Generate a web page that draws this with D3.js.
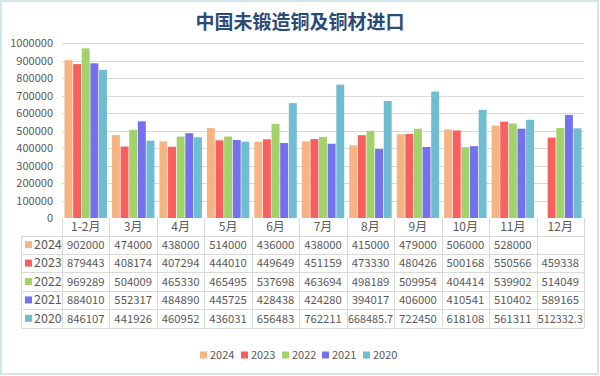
<!DOCTYPE html>
<html><head><meta charset="utf-8">
<script src="https://cdn.jsdelivr.net/npm/d3@7/dist/d3.min.js"></script>
<style>body{margin:0;background:#fff}svg{display:block}</style>
</head><body>
<svg id="c" width="600" height="376"></svg>
<script>
const title = "中国未锻造铜及铜材进口";
const categories = ["1-2月","3月","4月","5月","6月","7月","8月","9月","10月","11月","12月"];
const seriesNames = ["2024","2023","2022","2021","2020"];
const colors = ["#F7B483","#F7605F","#A2D26A","#7470EE","#6FBDD0"];
const s2024 = [902000,474000,438000,514000,436000,438000,415000,479000,506000,528000,null];
const s2023 = [879443,408174,407294,444010,449649,451159,473330,480426,500168,550566,459338];
const s2022 = [969289,504009,465330,465495,537698,463694,498189,509954,404414,539902,514049];
const s2021 = [884010,552317,484890,445725,428438,424280,394017,406000,410541,510402,589165];
const s2020 = [846107,441926,460952,436031,656483,762211,668485.7,722450,618108,561311,512332.3];
const seriesValues = [s2024,s2023,s2022,s2021,s2020];
const yTicks = [0,100000,200000,300000,400000,500000,600000,700000,800000,900000,1000000];

(function(){
const svg = d3.select("#c");
const font = "'Noto Sans CJK SC','Noto Sans',sans-serif";
const txt = "#595959";
const grid = "#D9D9D9";

svg.append("rect").attr("x",1).attr("y",1).attr("width",597).attr("height",373)
  .attr("fill","#fff").attr("stroke","#D3E6EA").attr("stroke-width",2);

svg.append("text").attr("x",300).attr("y",29).attr("text-anchor","middle")
  .attr("font-family",font).attr("font-weight","bold").attr("font-size",19)
  .attr("fill","#2B4A78").text(title);

const pLeft = 62, pRight = 584, pTop = 43, pBottom = 218;
const x0 = d3.scaleBand().domain(categories).range([pLeft,pRight]).padding(0);
const x1 = d3.scaleBand().domain(seriesNames).range([2.5, x0.bandwidth()-2.5]).paddingInner(0.08);
const y = d3.scaleLinear().domain([0,1000000]).range([pBottom,pTop]);

svg.append("g").selectAll("line").data(yTicks.slice(1)).join("line")
  .attr("x1",pLeft).attr("x2",pRight).attr("y1",d=>Math.round(y(d))+0.5).attr("y2",d=>Math.round(y(d))+0.5)
  .attr("stroke",grid).attr("stroke-width",1);

const yAxis = d3.axisLeft(y).tickValues(yTicks).tickSize(0).tickPadding(0).tickFormat(d3.format("d"));
const ga = svg.append("g").attr("transform",`translate(53,0)`).call(yAxis);
ga.select(".domain").remove();
ga.selectAll("text").attr("font-family",font).attr("font-size",11).attr("fill",txt);

const groups = svg.append("g").selectAll("g").data(categories).join("g")
  .attr("transform",d=>`translate(${x0(d)},0)`);
groups.selectAll("rect").data((c,i)=>seriesNames.map((s,j)=>({s,j,v:seriesValues[j][i]})).filter(d=>d.v!=null))
  .join("rect")
  .attr("x",d=>x1(d.s)).attr("width",x1.bandwidth())
  .attr("y",d=>y(d.v)).attr("height",d=>pBottom-y(d.v))
  .attr("fill",d=>colors[d.j]);

const tbl = svg.append("g");
const rowH = 18.4, headTop = pBottom, headBot = 235.5;
const keyLeft = 21;
const tableBot = headBot + rowH*5;
const bc = "#DADADA";
const vx = categories.map(c=>x0(c)).concat([pRight]);
tbl.selectAll("line.v").data(vx).join("line").attr("class","v")
  .attr("x1",d=>Math.round(d)+0.5).attr("x2",d=>Math.round(d)+0.5)
  .attr("y1",headTop).attr("y2",tableBot).attr("stroke",bc);
tbl.append("line").attr("x1",keyLeft+0.5).attr("x2",keyLeft+0.5).attr("y1",headBot).attr("y2",tableBot).attr("stroke",bc);
d3.range(6).forEach(i=>{
  const yy = Math.round(headBot + i*rowH)+0.5;
  tbl.append("line").attr("x1",keyLeft).attr("x2",pRight).attr("y1",yy).attr("y2",yy).attr("stroke",bc);
});
tbl.selectAll("text.m").data(categories).join("text").attr("class","m")
  .attr("x",d=>x0(d)+x0.bandwidth()/2).attr("y",(headTop+headBot)/2+4.5)
  .attr("text-anchor","middle").attr("font-family",font).attr("font-size",12).attr("fill",txt).text(d=>d);
seriesNames.forEach((s,j)=>{
  const cy = headBot + rowH*j + rowH/2;
  tbl.append("rect").attr("x",keyLeft+4).attr("y",cy-3.5).attr("width",7).attr("height",7).attr("fill",colors[j]);
  tbl.append("text").attr("x",keyLeft+13).attr("y",cy+4.3).attr("font-family",font).attr("font-size",12.5).attr("fill",txt).text(s);
  categories.forEach((c,i)=>{
    const v = seriesValues[j][i];
    if(v==null) return;
    const t = tbl.append("text").attr("x",x0(c)+x0.bandwidth()/2).attr("y",cy+4.2)
      .attr("text-anchor","middle").attr("font-family",font).attr("font-size",11.3).attr("fill",txt)
      .text(String(v));
    if(String(v).length>7) t.attr("textLength",45).attr("lengthAdjust","spacingAndGlyphs");
  });
});

const lg = svg.append("g").attr("transform","translate(200,355)");
const lgx = [0,41,82,122,163];
seriesNames.forEach((s,j)=>{
  lg.append("rect").attr("x",lgx[j]).attr("y",-3.5).attr("width",7).attr("height",7).attr("fill",colors[j]);
  lg.append("text").attr("x",lgx[j]+10).attr("y",4).attr("font-family",font).attr("font-size",11).attr("fill",txt).text(s);
});
})();
</script>
</body></html>
